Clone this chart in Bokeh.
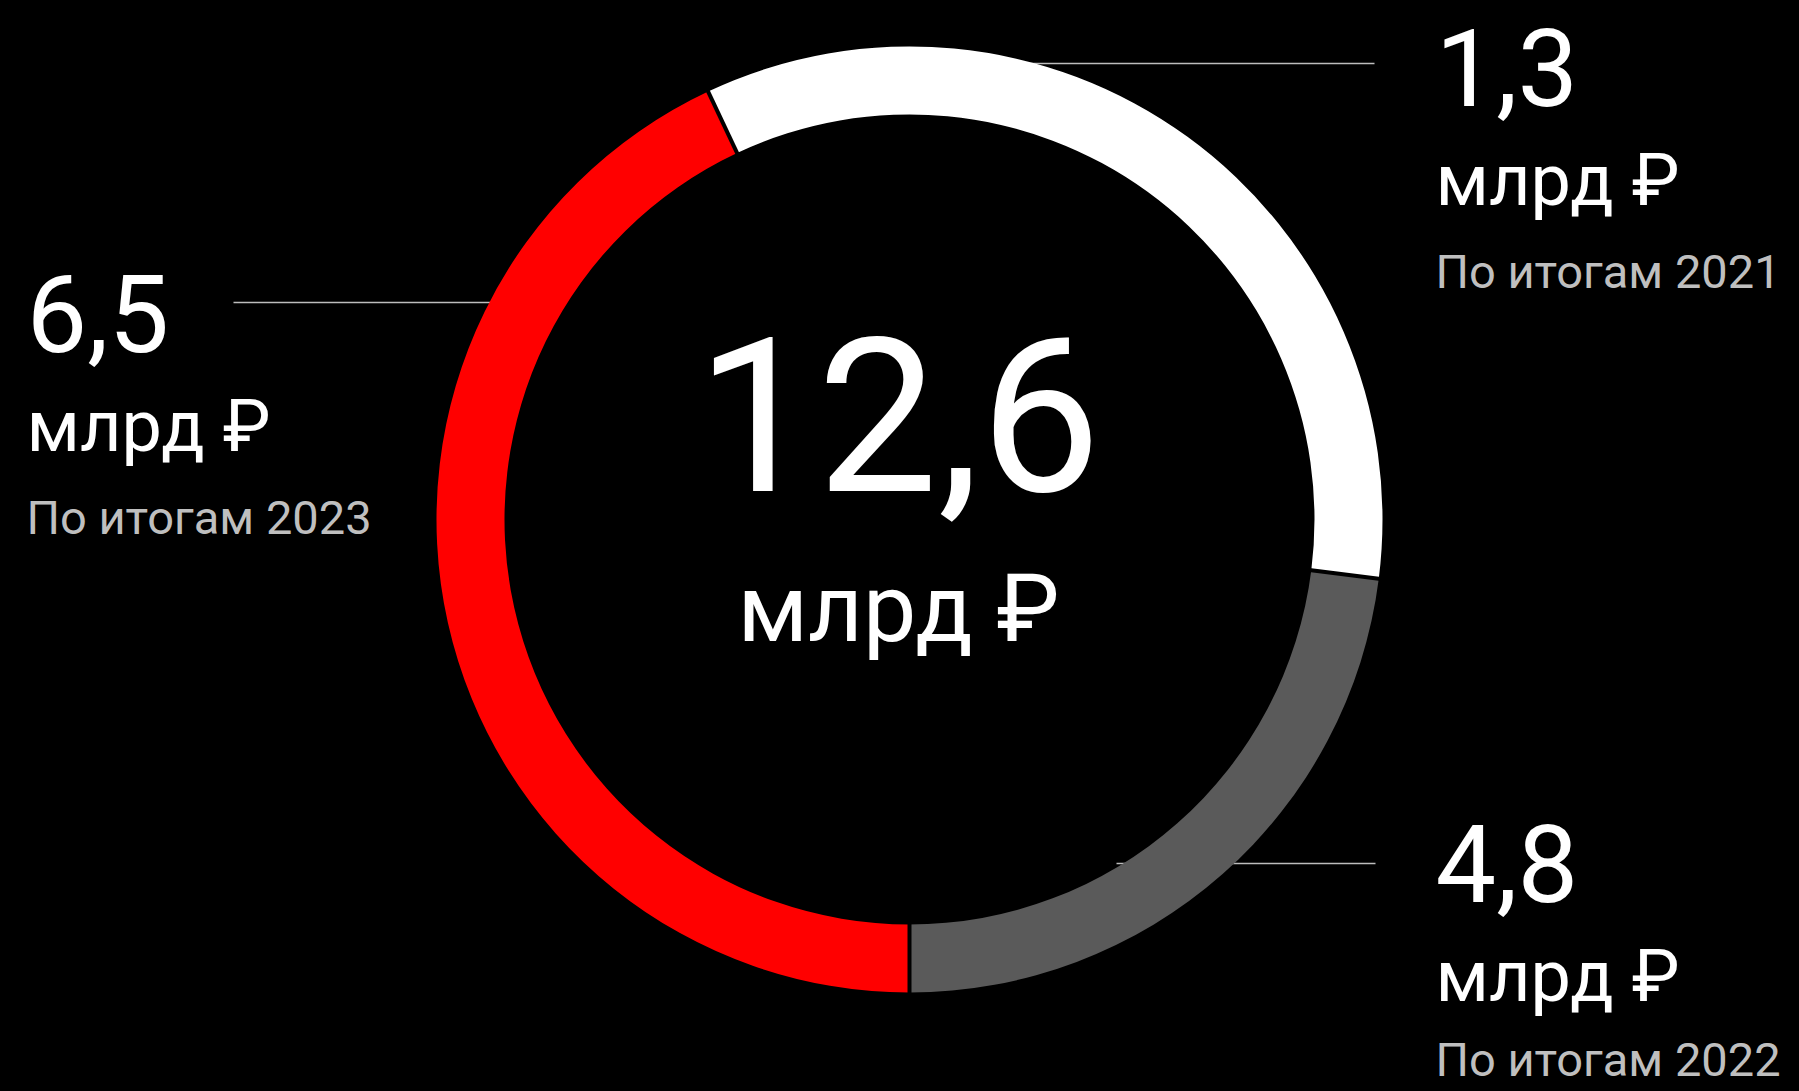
import math
from bokeh.plotting import figure
from bokeh.models import Range1d, ColumnDataSource
from bokeh.core.properties import value
from bokeh.embed import file_html
from bokeh.resources import INLINE

# ---- data ----
years = ["2021", "2022", "2023"]
amounts = [1.3, 4.8, 6.5]
total_amount = 12.6
unit_label = "млрд ₽"
caption_prefix = "По итогам"
arc_degrees = [122.4, 82.8, 154.8]      # visual ring share per year (clockwise)
ring_start_deg = -25.2                  # clockwise from 12 o'clock
colors = ["#ffffff", "#5a5a5a", "#ff0000"]

def fmt(v):
    return f"{v:.1f}".replace(".", ",")

FONT = "Roboto"
K = 0.37  # baseline correction (em) observed with the svg backend
W, H = 1799, 1091
p = figure(width=W, height=H, x_range=Range1d(0, W), y_range=Range1d(-H, 0),
           output_backend="svg", toolbar_location=None, min_border=0,
           x_axis_location=None, y_axis_location=None,
           background_fill_color="#000000", border_fill_color="#000000",
           outline_line_color=None)
p.grid.visible = False

def by(baseline, size):
    return -(baseline - K * size)

cx, cy = 909, -519
r_in, r_out = 405, 473

# leader lines (under the ring)
lead = ColumnDataSource(dict(x0=[1000, 1116, 233], x1=[1374, 1375, 500], y=[-63, -863, -302]))
p.segment(x0="x0", y0="y", x1="x1", y1="y", source=lead, line_color="#bdbdbd", line_width=1.5)

# ring
starts, ends, bounds = [], [], []
acc = ring_start_deg
for a in arc_degrees:
    t0, t1 = acc, acc + a
    starts.append(90 - t1)
    ends.append(90 - t0)
    bounds.append(t0)
    acc = t1
ring = ColumnDataSource(dict(x=[cx] * 3, y=[cy] * 3, s=starts, e=ends, c=colors))
p.annular_wedge(x="x", y="y", inner_radius=r_in, outer_radius=r_out, start_angle="s", end_angle="e",
                start_angle_units="deg", end_angle_units="deg", fill_color="c", line_color=None, source=ring)

sep = ColumnDataSource(dict(
    x0=[cx + (r_in - 6) * math.sin(math.radians(t)) for t in bounds],
    y0=[cy + (r_in - 6) * math.cos(math.radians(t)) for t in bounds],
    x1=[cx + (r_out + 6) * math.sin(math.radians(t)) for t in bounds],
    y1=[cy + (r_out + 6) * math.cos(math.radians(t)) for t in bounds]))
p.segment(x0="x0", y0="y0", x1="x1", y1="y1", source=sep, line_color="#000000", line_width=4)

# centre total
S_TOT, S_CU = 215, 95
p.text(x=[898], y=[by(493, S_TOT)], text=[fmt(total_amount)], text_font=value(FONT),
       text_font_size=f"{S_TOT}px", text_color="#ffffff", text_align="center", text_baseline="alphabetic")
p.text(x=[898], y=[by(643, S_CU)], text=[unit_label], text_font=value(FONT),
       text_font_size=f"{S_CU}px", text_color="#ffffff", text_align="center", text_baseline="alphabetic")

# side labels: order 2021, 2022, 2023
S_NUM, S_UNIT, S_CAP = 108, 72, 47
lx = [1435, 1435, 26]
base = [107, 903, 353]
cap_gap = [181, 173, 181]
nums = ColumnDataSource(dict(x=lx, y=[by(b, S_NUM) for b in base], t=[fmt(v) for v in amounts]))
units = ColumnDataSource(dict(x=lx, y=[by(b + 100, S_UNIT) for b in base], t=[unit_label] * 3))
caps = ColumnDataSource(dict(x=lx, y=[by(b + g, S_CAP) for b, g in zip(base, cap_gap)],
                             t=[f"{caption_prefix} {y}" for y in years]))
p.text(x="x", y="y", text="t", source=nums, text_font=value(FONT), text_font_size=f"{S_NUM}px",
       text_color="#ffffff", text_align="left", text_baseline="alphabetic")
p.text(x="x", y="y", text="t", source=units, text_font=value(FONT), text_font_size=f"{S_UNIT}px",
       text_color="#ffffff", text_align="left", text_baseline="alphabetic")
p.text(x="x", y="y", text="t", source=caps, text_font=value(FONT), text_font_size=f"{S_CAP}px",
       text_color="#bfbfbf", text_align="left", text_baseline="alphabetic")

html = file_html(p, INLINE)
html = html.replace("<body>", '<body style="background-color:#000000;">')
open("out.html", "w").write(html)
